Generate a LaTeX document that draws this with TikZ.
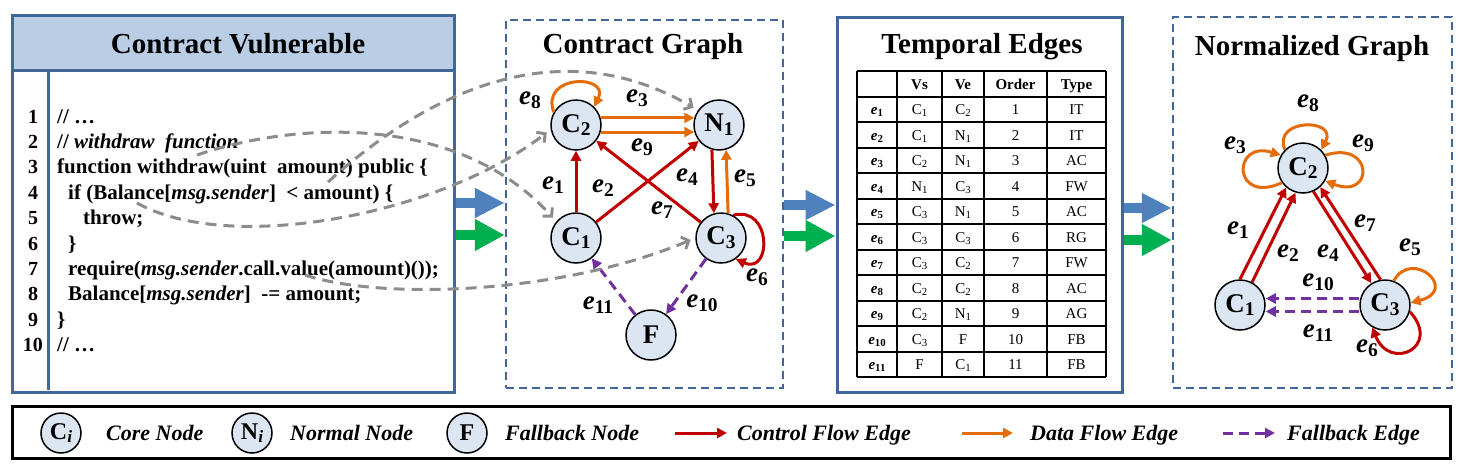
\documentclass[tikz,border=0pt]{standalone}
\usepackage{fontspec}
\setmainfont{Liberation Serif}
\usetikzlibrary{arrows.meta,calc}
\definecolor{pblue}{HTML}{41679A}
\definecolor{hdrfill}{HTML}{B9CDE5}
\definecolor{nodefill}{HTML}{DCE6F2}
\definecolor{cred}{HTML}{C00000}
\definecolor{corange}{HTML}{E46C0A}
\definecolor{cpurple}{HTML}{7030A0}
\definecolor{cgray}{HTML}{8C8C8C}
\definecolor{bblue}{HTML}{4F81BD}
\definecolor{bgreen}{HTML}{00B050}
\newcommand{\lowsub}[1]{\raisebox{-0.3ex}{\scalebox{0.72}{#1}}}
\newcommand{\elab}[1]{\textbf{\textit{e}}\lowsub{\textbf{#1}}}
\tikzset{
  spanel/.style={draw=pblue, line width=3pt, inner sep=0pt},
  dpanel/.style={draw=pblue, line width=2.5pt, dash pattern=on 8pt off 5pt, inner sep=0pt},
  ptitle/.style={font=\fontsize{29}{29}\selectfont\bfseries, inner sep=0pt, anchor=base},
  code/.style={font=\fontsize{21}{21}\selectfont\bfseries, inner sep=0pt, anchor=base west},
  lnum/.style={font=\fontsize{20}{20}\selectfont\bfseries, inner sep=0pt, anchor=base},
  gnode/.style={circle, draw=black, line width=1.5pt, fill=nodefill, minimum size=50pt, inner sep=0pt, font=\fontsize{27}{27}\selectfont\bfseries},
  lnode/.style={circle, draw=black, line width=1.5pt, fill=nodefill, minimum size=40pt, inner sep=0pt, font=\fontsize{24}{24}\selectfont\bfseries},
  elabel/.style={font=\fontsize{27}{27}\selectfont, inner sep=0pt},
  cf/.style={draw=cred, line width=3pt, -{Triangle[length=10pt,width=10pt]}},
  df/.style={draw=corange, line width=3pt, -{Triangle[length=10pt,width=10pt]}},
  fb/.style={draw=cpurple, line width=3pt, dash pattern=on 10pt off 6pt, -{Triangle[length=10pt,width=10pt]}},
  link/.style={draw=cgray, line width=3pt, dash pattern=on 11pt off 7pt, -{Straight Barb[length=6pt,width=13pt]}, shorten >=5pt},
  bigb/.style={draw=bblue, line width=10pt, -{Triangle[length=30pt,width=28pt]}},
  bigg/.style={draw=bgreen, line width=10pt, -{Triangle[length=30pt,width=30pt]}},
  tcell/.style={font=\fontsize{15}{15}\selectfont, inner sep=0pt, anchor=base},
  thead/.style={font=\fontsize{15}{15}\selectfont\bfseries, inner sep=0pt, anchor=base},
  ltext/.style={font=\fontsize{22}{22}\selectfont\bfseries\itshape, inner sep=0pt, anchor=base west},
  tline/.style={draw=black, line width=2pt}
}
\begin{document}
\begin{tikzpicture}[x=1pt,y=-1pt]
\useasboundingbox (0,0) rectangle (1462,469);
% ---------------- panels
\node[spanel, minimum width=442pt, minimum height=377pt] (p1) at (233,203.5) {};
\node[spanel, fill=hdrfill, minimum width=442pt, minimum height=55pt, anchor=north west] (hdr) at (p1.north west) {};
\node[ptitle] (t1) at (238,53) {Contract Vulnerable};
\draw[pblue, line width=3pt] (48,70) -- (48,390);
\node[dpanel, minimum width=277pt, minimum height=368pt] (p2) at (644.5,204) {};
\node[ptitle] (t2) at (643,53) {Contract Graph};
\node[spanel, minimum width=285pt, minimum height=375pt] (p3) at (979.5,204.5) {};
\node[ptitle] (t3) at (982,53) {Temporal Edges};
\node[dpanel, minimum width=279pt, minimum height=371pt] (p4) at (1312.5,202.5) {};
\node[ptitle] (t4) at (1312,55) {Normalized Graph};
% ---------------- code
\foreach \k/\yy in {1/123,2/148.4,3/173.8,4/199.2,5/224.6,6/250,7/275.4,8/300.8,9/326.2,10/351.6}
  \node[lnum] (ln\k) at (33,\yy) {\k};
\node[code] (k1) at (57,123) {// \ldots};
\node[code] (k2) at (57,148.4) {// \textit{withdraw\ \ function}};
\node[code] (k3) at (57,173.8) {function withdraw(uint\ \ amount) public \{};
\node[code] (k4) at (68,199.2) {if (Balance[\textit{msg.sender}]\ \ < amount) \{};
\node[code] (k5) at (83,224.6) {throw;};
\node[code] (k6) at (68,250) {\}};
\node[code] (k7) at (68,275.4) {require(\textit{msg.sender}.call.value(amount)());};
\node[code] (k8) at (68,300.8) {Balance[\textit{msg.sender}]\ \ -= amount;};
\node[code] (k9) at (57,326.2) {\}};
\node[code] (k10) at (57,351.6) {// \ldots};
% ---------------- contract graph
\node[gnode] (c2) at (576,125) {C\lowsub{2}};
\node[gnode] (n1) at (719,125) {N\lowsub{1}};
\node[gnode] (c1) at (576,238) {C\lowsub{1}};
\node[gnode] (c3) at (721,238) {C\lowsub{3}};
\node[gnode] (f) at (651,335) {F};
\draw[cf] (c1) -- (c2);
\draw[cf] (c1) -- (n1);
\draw[df] (c2.16) -- (n1.164);
\draw[cf] (n1.-106) -- (c3.106);
\draw[df] (c3.74) -- (n1.-74);
\draw[cf] (c3.62) .. controls (772,205) and (772,275) .. (c3.-55);
\draw[cf] (c3) -- (c2);
\draw[df] (c2.150) .. controls (540,74) and (610,74) .. (c2.45);
\draw[df] (c2.-16) -- (n1.-164);
\draw[fb] (c3) -- (f);
\draw[fb] (f) -- (c1);
\node[elabel] (g8) at (530,100) {\elab{8}};
\node[elabel] (g3) at (637,98) {\elab{3}};
\node[elabel] (g9) at (642,147) {\elab{9}};
\node[elabel] (g1) at (553,185) {\elab{1}};
\node[elabel] (g2) at (603,188) {\elab{2}};
\node[elabel] (g4) at (687,177) {\elab{4}};
\node[elabel] (g5) at (745,178) {\elab{5}};
\node[elabel] (g7) at (662,210) {\elab{7}};
\node[elabel] (g6) at (757,277) {\elab{6}};
\node[elabel] (g10) at (702,303) {\elab{10}};
\node[elabel] (g11) at (598,305) {\elab{11}};
% ---------------- links code -> graph
\coordinate (s1) at (328,182);
\coordinate (s2) at (197,155);
\coordinate (s3) at (137,203);
\coordinate (s4) at (305,275);
\draw[link] (s1) .. controls (430,90) and (560,30) .. (n1.145);
\draw[link] (s2) .. controls (300,120) and (460,115) .. (c1.140);
\draw[link] (s3) .. controls (230,255) and (440,215) .. (c2.190);
\draw[link] (s4) .. controls (380,300) and (560,295) .. (c3.180);
% ---------------- big arrows
\coordinate (ya1) at (0,203); \coordinate (yb1) at (0,235);
\coordinate (ya2) at (0,205); \coordinate (yb2) at (0,236);
\coordinate (ya3) at (0,208); \coordinate (yb3) at (0,240);
\draw[bigb] (p1.east |- ya1) -- (p2.west |- ya1);
\draw[bigg] (p1.east |- yb1) -- (p2.west |- yb1);
\draw[bigb] (p2.east |- ya2) -- (p3.west |- ya2);
\draw[bigg] (p2.east |- yb2) -- (p3.west |- yb2);
\draw[bigb] (p3.east |- ya3) -- (p4.west |- ya3);
\draw[bigg] (p3.east |- yb3) -- (p4.west |- yb3);
% ---------------- table
\foreach \i in {0,...,12} \draw[tline] (857,{71+25.5*\i}) -- (1106,{71+25.5*\i});
\foreach \xx in {857,897,942,984,1047,1106} \draw[tline] (\xx,71) -- (\xx,377);
\node[thead] (h2) at (919.5,89) {Vs};
\node[thead] (h3) at (963,89) {Ve};
\node[thead] (h4) at (1015.5,89) {Order};
\node[thead] (h5) at (1076.5,89) {Type};
\foreach \e/\vs/\ve/\o/\ty [count=\r] in {
  1/C\lowsub{1}/C\lowsub{2}/1/IT,
  2/C\lowsub{1}/N\lowsub{1}/2/IT,
  3/C\lowsub{2}/N\lowsub{1}/3/AC,
  4/N\lowsub{1}/C\lowsub{3}/4/FW,
  5/C\lowsub{3}/N\lowsub{1}/5/AC,
  6/C\lowsub{3}/C\lowsub{3}/6/RG,
  7/C\lowsub{3}/C\lowsub{2}/7/FW,
  8/C\lowsub{2}/C\lowsub{2}/8/AC,
  9/C\lowsub{2}/N\lowsub{1}/9/AG,
  10/C\lowsub{3}/F/10/FB,
  11/F/C\lowsub{1}/11/FB}
{
  \pgfmathsetmacro{\yb}{71+25.5*\r+18}
  \node[tcell] (ta\r) at (877,\yb) {\textbf{\textit{e}}\lowsub{\textbf{\e}}};
  \node[tcell] (tb\r) at (919.5,\yb) {\vs};
  \node[tcell] (tc\r) at (963,\yb) {\ve};
  \node[tcell] (td\r) at (1015.5,\yb) {\o};
  \node[tcell] (te\r) at (1076.5,\yb) {\ty};
}
% ---------------- normalized graph
\node[gnode] (m2) at (1303,168) {C\lowsub{2}};
\node[gnode] (m1) at (1240,305) {C\lowsub{1}};
\node[gnode] (m3) at (1385,305) {C\lowsub{3}};
\draw[cf] (m1.90) -- (m2.229);
\draw[cf] (m1.62) -- (m2.253);
\draw[cf] (m2.-66) -- (m3.122);
\draw[cf] (m3.100) -- (m2.-48);
\draw[df] (m2.135) .. controls (1272,118) and (1338,118) .. (m2.45);
\draw[df] (m2.215) .. controls (1232,205) and (1232,140) .. (m2.150);
\draw[df] (m2.30) .. controls (1374,140) and (1374,200) .. (m2.-30);
\draw[df] (m3.70) .. controls (1412,248) and (1460,290) .. (m3.5);
\draw[cf] (m3.-15) .. controls (1442,347) and (1390,372) .. (m3.-120);
\draw[fb] ([yshift=6.5pt]m3.west) -- ([yshift=6.5pt]m1.east);
\draw[fb] ([yshift=-6.5pt]m3.west) -- ([yshift=-6.5pt]m1.east);
\node[elabel] (q8) at (1308,103) {\elab{8}};
\node[elabel] (q3) at (1235,145) {\elab{3}};
\node[elabel] (q9) at (1363,143) {\elab{9}};
\node[elabel] (q1) at (1238,230) {\elab{1}};
\node[elabel] (q2) at (1288,253) {\elab{2}};
\node[elabel] (q4) at (1328,253) {\elab{4}};
\node[elabel] (q7) at (1365,223) {\elab{7}};
\node[elabel] (q5) at (1410,247) {\elab{5}};
\node[elabel] (q6) at (1367,348) {\elab{6}};
\node[elabel] (q10) at (1318,282) {\elab{10}};
\node[elabel] (q11) at (1318,333) {\elab{11}};
% ---------------- legend
\node[draw=black, line width=3pt, minimum width=1438pt, minimum height=52pt, inner sep=0pt] (leg) at (731,432) {};
\node[lnode] (lc) at (61,433) {C\lowsub{\textit{i}}};
\node[ltext] (lt1) at (106,440) {Core Node};
\node[lnode] (ln) at (252,433) {N\lowsub{\textit{i}}};
\node[ltext] (lt2) at (290,440) {Normal Node};
\node[lnode] (lf) at (467,433) {F};
\node[ltext] (lt3) at (505,440) {Fallback Node};
\coordinate (ra) at (675,433); \coordinate (rb) at (727,433);
\draw[cf] (ra) -- (rb);
\node[ltext] (lt4) at (737,440) {Control Flow Edge};
\coordinate (oa) at (962,433); \coordinate (ob) at (1013,433);
\draw[df] (oa) -- (ob);
\node[ltext] (lt5) at (1030,440) {Data Flow Edge};
\coordinate (pa) at (1223,433); \coordinate (pb) at (1275,433);
\draw[fb] (pa) -- (pb);
\node[ltext] (lt6) at (1287,440) {Fallback Edge};
\end{tikzpicture}
\end{document}
